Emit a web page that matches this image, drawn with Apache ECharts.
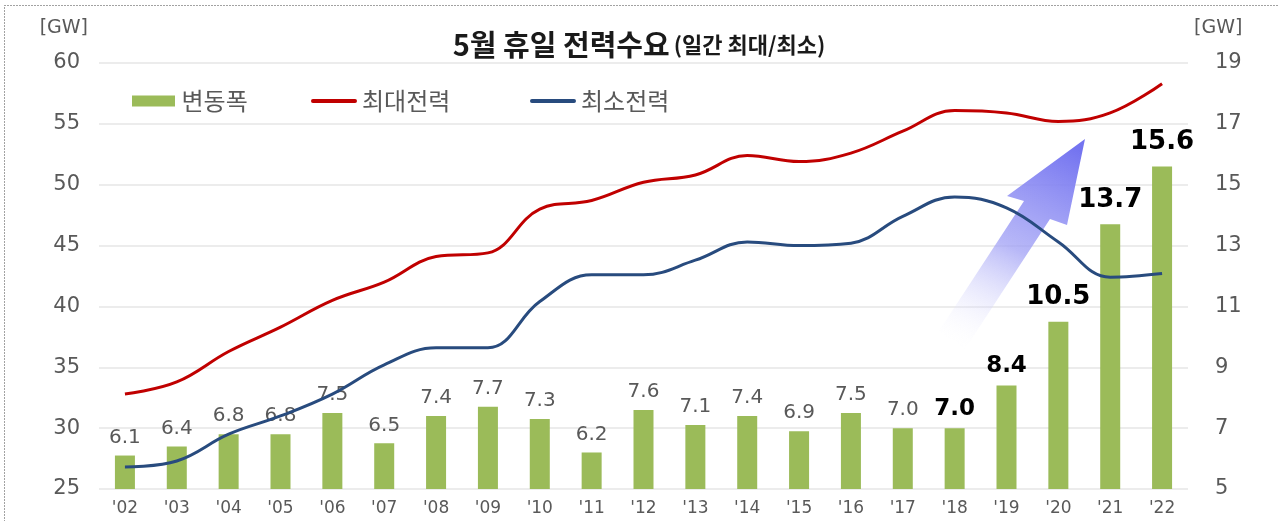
<!DOCTYPE html>
<html>
<head>
<meta charset="utf-8">
<title>5월 휴일 전력수요</title>
<script src="https://cdn.jsdelivr.net/npm/echarts@6/dist/echarts.min.js"></script>
<style>
    html, body { margin: 0; padding: 0; background: #fff; }
    #chart { width: 1278px; height: 521px; }
</style>
</head>
<body>
<div id="chart"></div>
<script>
    // 연도
    var years = ["'02", "'03", "'04", "'05", "'06", "'07", "'08", "'09", "'10", "'11", "'12",
                 "'13", "'14", "'15", "'16", "'17", "'18", "'19", "'20", "'21", "'22"];
    // 변동폭 (오른쪽 축)
    var rangeVals = [6.1, 6.4, 6.8, 6.8, 7.5, 6.5, 7.4, 7.7, 7.3, 6.2, 7.6,
                     7.1, 7.4, 6.9, 7.5, 7.0, 7.0, 8.4, 10.5, 13.7, 15.6];
    // 최대전력 (왼쪽 축)
    var maxVals = [32.8, 33.8, 36.3, 38.3, 40.5, 42.0, 44.1, 44.4, 48.0, 48.7, 50.2,
                   50.8, 52.4, 51.9, 52.6, 54.4, 56.1, 55.9, 55.2, 55.9, 58.3];
    // 최소전력 (왼쪽 축)
    var minVals = [26.8, 27.3, 29.5, 31.0, 32.8, 35.2, 36.6, 36.6, 40.4, 42.6, 42.6,
                   43.8, 45.3, 45.0, 45.2, 47.4, 49.0, 48.1, 45.3, 42.4, 42.7];

    var grey = '#595959';
    var numFont = '"DejaVu Sans", Verdana, sans-serif';
    var krFont = '"Noto Sans CJK KR", sans-serif';
    var lineIcon = 'path://M2,0h44a2,2 0 0 1 0,4h-44a2,2 0 0 1 0,-4z';

    // '18 이후는 굵은 검정 라벨
    var barData = rangeVals.map(function (v, i) {
        var item = { value: v };
        if (i >= 16) {
            item.label = {
                color: '#000',
                fontWeight: 'bold',
                fontSize: i >= 18 ? 26 : 23,
                distance: i >= 18 ? 11 : 8
            };
        }
        return item;
    });

    function legendAt(left, name, icon) {
        return {
            left: left,
            top: 84,
            itemWidth: 46,
            itemHeight: 11,
            itemGap: 0,
            textStyle: { fontSize: 24, color: grey, fontFamily: krFont },
            data: [{ name: name, icon: icon }]
        };
    }

    var chart = echarts.init(document.getElementById('chart'));
    chart.setOption({
        animation: false,
        textStyle: { fontFamily: krFont },
        title: {
            text: '{a|5월 휴일 전력수요} {b|(일간 최대/최소)}',
            left: 'center',
            top: 25,
            textStyle: {
                rich: {
                    a: { fontSize: 29, fontWeight: 'bold', color: '#1a1a1a', fontFamily: krFont },
                    b: { fontSize: 22, fontWeight: 'bold', color: '#1a1a1a', fontFamily: krFont }
                }
            }
        },
        legend: [
            legendAt(127, '변동폭', 'path://M0,0h43v11h-43z'),
            legendAt(306, '최대전력', lineIcon),
            legendAt(525, '최소전력', lineIcon)
        ],
        grid: { left: 99, right: 90, top: 63, bottom: 32 },
        xAxis: {
            type: 'category',
            data: years,
            axisLine: { show: false },
            axisTick: { show: false },
            axisLabel: { color: grey, fontSize: 17, margin: 11, fontFamily: numFont }
        },
        yAxis: [
            {
                type: 'value',
                min: 25,
                max: 60,
                interval: 5,
                name: '[GW]',
                nameGap: 25,
                nameTextStyle: { color: grey, fontSize: 19, align: 'right', padding: [0, 11, 0, 0], fontFamily: numFont },
                axisLabel: { color: grey, fontSize: 21, margin: 19, fontFamily: numFont },
                splitLine: { lineStyle: { color: '#E6E6E6', width: 1.5 } }
            },
            {
                type: 'value',
                min: 5,
                max: 19,
                interval: 2,
                name: '[GW]',
                nameGap: 25,
                nameTextStyle: { color: grey, fontSize: 19, align: 'left', padding: [0, 0, 0, 6], fontFamily: numFont },
                axisLabel: { color: grey, fontSize: 21, margin: 27, fontFamily: numFont },
                splitLine: { show: false }
            }
        ],
        graphic: [
            {
                type: 'rect',
                silent: true,
                shape: { x: 4.5, y: 5.5, width: 1290, height: 540 },
                style: { fill: 'none', stroke: '#444', lineWidth: 1, lineDash: [1, 2] }
            },
            {
                type: 'polygon',
                silent: true,
                z: 1,
                shape: {
                    points: [[939, 331], [1024, 201], [1007, 196], [1085, 139],
                             [1067, 225], [1050, 219], [965, 349]]
                },
                style: {
                    fill: new echarts.graphic.LinearGradient(0.1, 1, 0.8, 0, [
                        { offset: 0, color: 'rgba(255,255,255,0)' },
                        { offset: 0.5, color: 'rgba(160,160,245,0.75)' },
                        { offset: 1, color: '#7474F0' }
                    ])
                }
            }
        ],
        series: [
            {
                name: '변동폭',
                type: 'bar',
                yAxisIndex: 1,
                barWidth: 20,
                itemStyle: { color: '#9BBB59' },
                label: {
                    show: true,
                    position: 'top',
                    distance: 8,
                    color: grey,
                    fontSize: 20,
                    fontFamily: numFont,
                    formatter: function (p) { return p.value.toFixed(1); }
                },
                data: barData,
                z: 2
            },
            {
                name: '최대전력',
                type: 'line',
                yAxisIndex: 0,
                smooth: 0.4,
                showSymbol: false,
                lineStyle: { color: '#C00000', width: 3 },
                itemStyle: { color: '#C00000' },
                data: maxVals,
                z: 3
            },
            {
                name: '최소전력',
                type: 'line',
                yAxisIndex: 0,
                smooth: 0.4,
                showSymbol: false,
                lineStyle: { color: '#284B7E', width: 3 },
                itemStyle: { color: '#284B7E' },
                data: minVals,
                z: 3
            }
        ]
    });
</script>
</body>
</html>
